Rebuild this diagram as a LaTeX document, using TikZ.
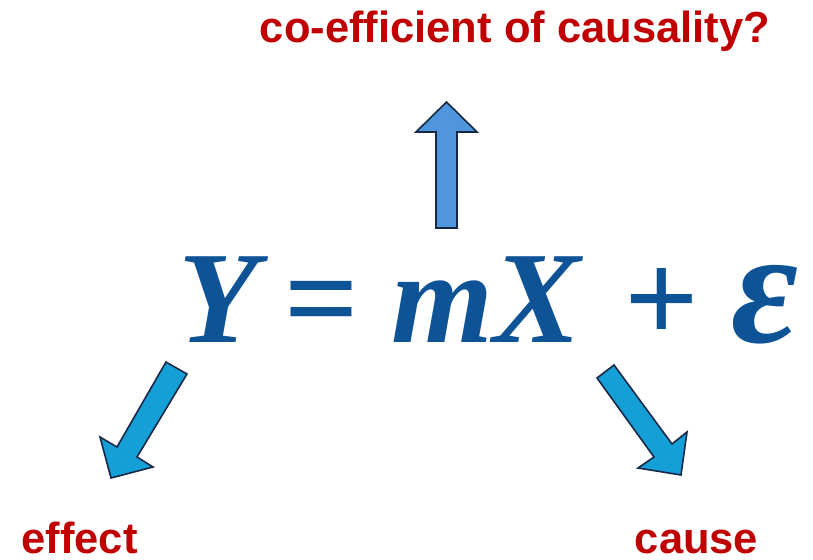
\documentclass[tikz,border=0pt]{standalone}
\usepackage{graphicx}
\usepackage{fontspec}
\setsansfont{Liberation Sans}
\newfontfamily\eqfont{Liberation Serif}
\usetikzlibrary{positioning}
\definecolor{eqblue}{RGB}{14,83,150}
\definecolor{labred}{RGB}{192,0,0}
\definecolor{upblue}{RGB}{80,150,220}
\definecolor{dnblue}{RGB}{20,160,215}
\definecolor{arrline}{RGB}{22,40,70}
\newcommand{\vb}[1]{{\bfseries\itshape #1}}
\newcommand{\op}[1]{\hspace{0.2em}{\bfseries\upshape #1}\hspace{0.25em}}
\tikzset{
  blkarr/.style={draw=arrline, line width=1.6pt, line join=miter},
  lab/.style={font=\sffamily\bfseries\fontsize{43.5}{46}\selectfont, text=labred, inner sep=0pt, anchor=base},
  eqn/.style={font=\eqfont\fontsize{131}{136}\selectfont, text=eqblue, inner sep=0pt, anchor=base west}
}
\begin{document}
\begin{tikzpicture}
\useasboundingbox (0pt,0pt) rectangle (813pt,-559pt);
% equation
\node[eqn] (eq) at (178pt,-342pt)
  {\vb{Y}\op{=}\vb{mX}\hspace{0.13em}\op{+}\scalebox{1.25}{\vb{ε}}};
% labels
\node[lab] (coef) at (515pt,-43pt) {co-efficient of causality?};
\node[lab] (eff) at (79.5pt,-553pt) {effect};
\node[lab] (cau) at (696.5pt,-553pt) {cause};
% block arrows
\begin{scope}[x=1pt, y=-1pt]
\draw[blkarr, fill=upblue] (436,228) -- (436,132) -- (416,132) -- (446.5,102)
  -- (477,132) -- (457,132) -- (457,228) -- cycle;
\draw[blkarr, fill=dnblue] (166,362) -- (187,374) -- (137,457) -- (153,467)
  -- (111,478) -- (100,437) -- (117,447) -- cycle;
\draw[blkarr, fill=dnblue] (614,365) -- (597,378) -- (654,457) -- (638,468)
  -- (681,475) -- (687,432) -- (672,444) -- cycle;
\end{scope}
\end{tikzpicture}
\end{document}
